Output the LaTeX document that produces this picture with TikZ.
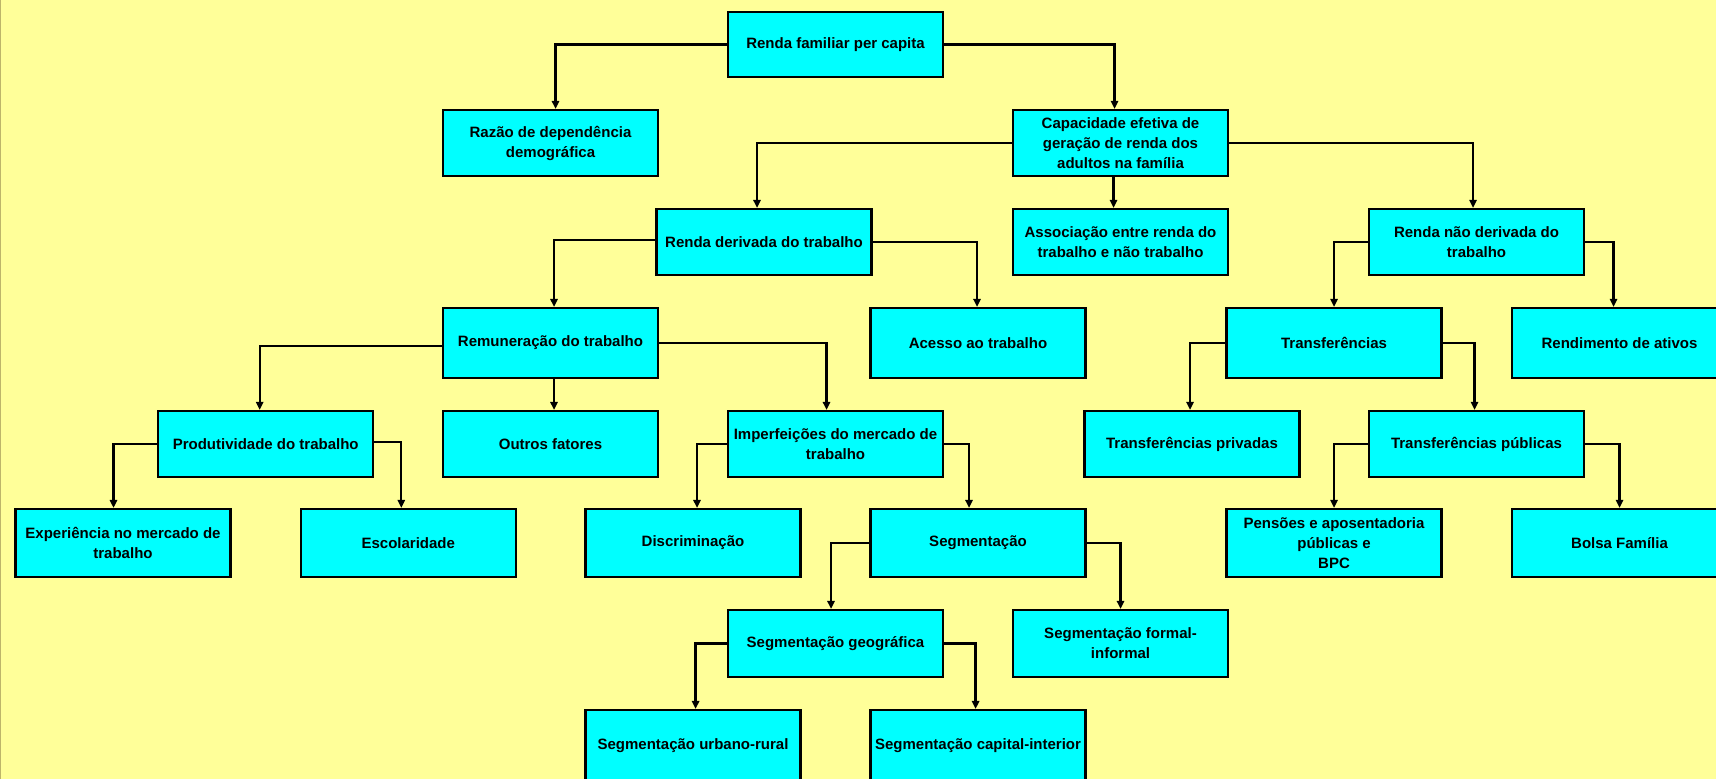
\documentclass[tikz,border=0pt]{standalone}
\usepackage{fontspec}
\setmainfont{Liberation Sans}
\usetikzlibrary{arrows.meta,calc}
\definecolor{bgyellow}{HTML}{FFFF99}
\definecolor{boxcyan}{HTML}{00FFFF}
\definecolor{edgeline}{HTML}{BDB56A}
\begin{document}
\begin{tikzpicture}[x=0.5pt,y=-0.5pt,
  box/.style={draw=black, fill=boxcyan, line width=1.05pt, align=center, inner sep=0pt,
    minimum width=107.5pt, font=\bfseries\fontsize{7.5}{10}\selectfont},
  conn/.style={line width=1.15pt, -{Triangle[length=4pt,width=3.6pt]}}]
\fill[bgyellow] (0,0) rectangle (1716,779);
\useasboundingbox (0,0) rectangle (1716,779);
\begin{scope}
\clip (0,0) rectangle (1716,779);
\draw[edgeline, line width=0.6pt] (0.6,0) -- (0.6,779);
% row 0
\node[box, minimum height=32.5pt] (n1) at (835.5,44.5) {Renda familiar per capita};
% row 1
\node[box, minimum height=33pt] (n2) at (550.5,143) {Razão de dependência\\demográfica};
\node[box, minimum height=33pt] (n3) at (1120.5,143) {Capacidade efetiva de\\geração de renda dos\\adultos na família};
% row 2
\node[box, minimum height=33pt] (n4) at (764,242) {Renda derivada do trabalho};
\node[box, minimum height=33pt] (n5) at (1120.5,242) {Associação entre renda do\\trabalho e não trabalho};
\node[box, minimum height=33pt] (n6) at (1476.5,242) {Renda não derivada do\\trabalho};
% row 3
\node[box, minimum height=35pt] (n7) at (550.5,343) {Remuneração do trabalho};
\node[box, minimum height=35pt] (n8) at (978,343) {Acesso ao trabalho};
\node[box, minimum height=35pt] (n9) at (1334,343) {Transferências};
\node[box, minimum height=35pt] (n10) at (1619.5,343) {Rendimento de ativos};
% row 4
\node[box, minimum height=33pt] (n11) at (265.7,444) {Produtividade do trabalho};
\node[box, minimum height=33pt] (n12) at (550.5,444) {Outros fatores};
\node[box, minimum height=33pt] (n13) at (835.5,444) {Imperfeições do mercado de\\trabalho};
\node[box, minimum height=33pt] (n14) at (1192,444) {Transferências privadas};
\node[box, minimum height=33pt] (n15) at (1476.5,444) {Transferências públicas};
% row 5
\node[box, minimum height=34pt] (n16) at (123,543) {Experiência no mercado de\\trabalho};
\node[box, minimum height=34pt] (n17) at (408.3,543) {Escolaridade};
\node[box, minimum height=34pt] (n18) at (693,543) {Discriminação};
\node[box, minimum height=34pt] (n19) at (978,543) {Segmentação};
\node[box, minimum height=34pt] (n20) at (1334,543) {Pensões e aposentadoria\\públicas e\\BPC};
\node[box, minimum height=34pt] (n21) at (1619.5,543) {Bolsa Família};
% row 6
\node[box, minimum height=33.5pt] (n22) at (835.5,643.5) {Segmentação geográfica};
\node[box, minimum height=33.5pt] (n23) at (1120.5,643.5) {Segmentação formal-\\informal};
% row 7
\node[box, minimum height=36pt] (n24) at (693,746) {Segmentação urbano-rural};
\node[box, minimum height=36pt] (n25) at (978,746) {Segmentação capital-interior};
% connectors
\draw[conn] (n1.west) -| ($(n2.north)+(5,0)$);
\draw[conn] (n1.east) -| ($(n3.north)+(-6,0)$);
\draw[conn] (n3.west) -| ($(n4.north)+(-7,0)$);
\draw[conn] ($(n3.south)+(-7,0)$) -- ($(n5.north)+(-7,0)$);
\draw[conn] (n3.east) -| ($(n6.north)+(-3.5,0)$);
\draw[conn] ($(n4.west)+(0,-2)$) -| ($(n7.north)+(3.5,0)$);
\draw[conn] (n4.east) -| ($(n8.north)+(-1,0)$);
\draw[conn] (n6.west) -| (n9.north);
\draw[conn] (n6.east) -| ($(n10.north)+(-6,0)$);
\draw[conn] ($(n7.west)+(0,3)$) -| ($(n11.north)+(-6,0)$);
\draw[conn] ($(n7.south)+(3.5,0)$) -- ($(n12.north)+(3.5,0)$);
\draw[conn] (n7.east) -| ($(n13.north)+(-9,0)$);
\draw[conn] (n9.west) -| ($(n14.north)+(-2,0)$);
\draw[conn] (n9.east) -| ($(n15.north)+(-2,0)$);
\draw[conn] (n11.west) -| ($(n16.north)+(-9.5,0)$);
\draw[conn] ($(n11.east)+(0,-2)$) -| ($(n17.north)+(-7,0)$);
\draw[conn] (n13.west) -| ($(n18.north)+(4,0)$);
\draw[conn] (n13.east) -| ($(n19.north)+(-9,0)$);
\draw[conn] (n15.west) -| (n20.north);
\draw[conn] (n15.east) -| (n21.north);
\draw[conn] (n19.west) -| ($(n22.north)+(-4.5,0)$);
\draw[conn] (n19.east) -| (n23.north);
\draw[conn] (n22.west) -| ($(n24.north)+(2.6,0)$);
\draw[conn] (n22.east) -| ($(n25.north)+(-2.4,0)$);
\end{scope}
\end{tikzpicture}
\end{document}
